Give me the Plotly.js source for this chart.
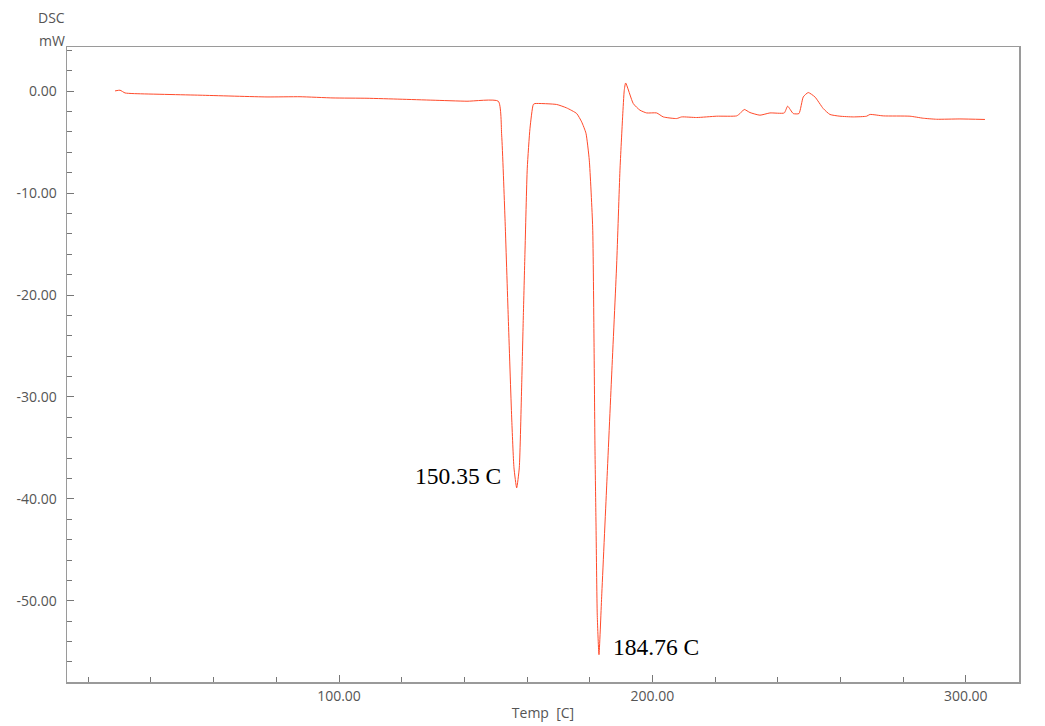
<!DOCTYPE html>
<html>
<head>
<meta charset="utf-8">
<script src="https://cdn.plot.ly/plotly-3.0.1.min.js"></script>
<style>html,body{margin:0;padding:0;background:#fff;}#chart{width:1045px;height:726px;}</style>
</head>
<body>
<div id="chart"></div>
<script>
// Temperature [C]
const temp = [28.53,30.12,31.72,34.27,55.65,77.03,87.56,98.09,108.93,119.46,129.99,140.84,150.83,
  151.91,152.97,154.02,155.11,155.84,156.70,157.53,158.30,158.81,159.35,160.08,160.95,162.00,162.54,
  169.46,172.66,175.85,177.44,178.81,179.87,
  180.95,181.37,181.69,182.01,182.42,182.96,183.82,185.42,187.01,188.61,189.66,190.52,191.03,191.48,
  193.91,196.04,198.18,201.37,203.48,207.75,209.35,214.14,220.52,226.90,227.95,229.32,231.14,234.33,
  237.52,242.09,243.17,244.96,246.78,248.15,249.74,251.88,254.53,256.67,259.86,264.10,268.38,269.43,
  273.68,282.20,286.44,290.72,298.15,306.13];
// DSC [mW]
const dsc = [0.03,0.10,-0.17,-0.23,-0.39,-0.56,-0.54,-0.66,-0.69,-0.78,-0.88,-0.98,-0.98,
  -4.31,-12.45,-22.25,-32.06,-36.96,-38.92,-36.96,-28.82,-22.25,-15.78,-7.55,-3.63,-1.30,-1.21,
  -1.30,-1.64,-2.19,-3.01,-4.12,-6.76,
  -13.33,-24.22,-35.10,-42.35,-51.47,-55.29,-49.61,-38.73,-27.84,-16.96,-7.75,-2.45,0.10,0.81,
  -1.21,-1.86,-2.13,-2.13,-2.52,-2.68,-2.52,-2.58,-2.45,-2.42,-2.19,-1.79,-2.09,-2.35,
  -2.13,-2.13,-1.47,-2.19,-2.19,-0.56,-0.13,-0.56,-1.70,-2.28,-2.45,-2.52,-2.45,-2.28,
  -2.42,-2.45,-2.65,-2.75,-2.72,-2.77];

const xTickVals = [100, 200, 300];
const xTickText = ['100.00', '200.00', '300.00'];
const yTickVals = [0, -10, -20, -30, -40, -50];
const yTickText = ['0.00', '-10.00', '-20.00', '-30.00', '-40.00', '-50.00'];

const peakLabels = ['150.35 C', '184.76 C'];
const peakLabelX = [152.3, 186.8];
const peakLabelY = [-37.75, -54.5];

const tickFont = {family: 'Open Sans, sans-serif', size: 14, color: '#555555'};
const axisColor = '#9a9a9a';

const trace = {
  x: temp, y: dsc, type: 'scatter', mode: 'lines',
  line: {color: '#ff4a2a', width: 1, shape: 'spline', smoothing: 0.5},
  hoverinfo: 'x+y'
};

const layout = {
  width: 1045, height: 726,
  margin: {l: 67, r: 26, t: 47, b: 44},
  paper_bgcolor: '#ffffff', plot_bgcolor: '#ffffff',
  showlegend: false,
  xaxis: {
    range: [13.2, 317.0],
    tickmode: 'array', tickvals: xTickVals, ticktext: xTickText,
    ticks: 'inside', ticklen: 7, tickcolor: '#777777', tickwidth: 1,
    minor: {tickmode: 'linear', tick0: 0, dtick: 20, ticks: 'inside', ticklen: 5, tickcolor: '#777777', tickwidth: 1, showgrid: false},
    showgrid: false, zeroline: false,
    showline: true, mirror: true, linecolor: axisColor, linewidth: 1.5,
    tickfont: tickFont,
    ticklabelstandoff: 1,
    title: {text: 'Temp\u00a0 [C]', font: {family: 'Open Sans, sans-serif', size: 14, color: '#555555'}, standoff: 4}
  },
  yaxis: {
    range: [-57.97, 4.34],
    tickmode: 'array', tickvals: yTickVals, ticktext: yTickText,
    ticks: 'inside', ticklen: 7, tickcolor: '#777777', tickwidth: 1,
    minor: {tickmode: 'linear', tick0: 0, dtick: 2, ticks: 'inside', ticklen: 5, tickcolor: '#777777', tickwidth: 1, showgrid: false},
    showgrid: false, zeroline: false,
    showline: true, mirror: true, linecolor: axisColor, linewidth: 1.5,
    tickfont: tickFont,
    ticklabelstandoff: 6
  },
  annotations: [
    {text: 'DSC', xref: 'paper', yref: 'paper', x: 0.0, y: 1.0457, xanchor: 'right', yanchor: 'middle', showarrow: false,
     font: {family: 'Open Sans, sans-serif', size: 14, color: '#555555'}},
    {text: 'mW', xref: 'paper', yref: 'paper', x: 0.0, y: 1.011, xanchor: 'right', yanchor: 'middle', showarrow: false,
     font: {family: 'Open Sans, sans-serif', size: 14, color: '#555555'}},
    {text: peakLabels[0], xref: 'x', yref: 'y', x: peakLabelX[0], y: peakLabelY[0], xanchor: 'right', yanchor: 'middle', showarrow: false,
     font: {family: 'Liberation Serif, Times New Roman, serif', size: 23.5, color: '#000000'}},
    {text: peakLabels[1], xref: 'x', yref: 'y', x: peakLabelX[1], y: peakLabelY[1], xanchor: 'left', yanchor: 'middle', showarrow: false,
     font: {family: 'Liberation Serif, Times New Roman, serif', size: 23.5, color: '#000000'}}
  ]
};

Plotly.newPlot('chart', [trace], layout, {displayModeBar: false, staticPlot: true});
</script>
</body>
</html>
